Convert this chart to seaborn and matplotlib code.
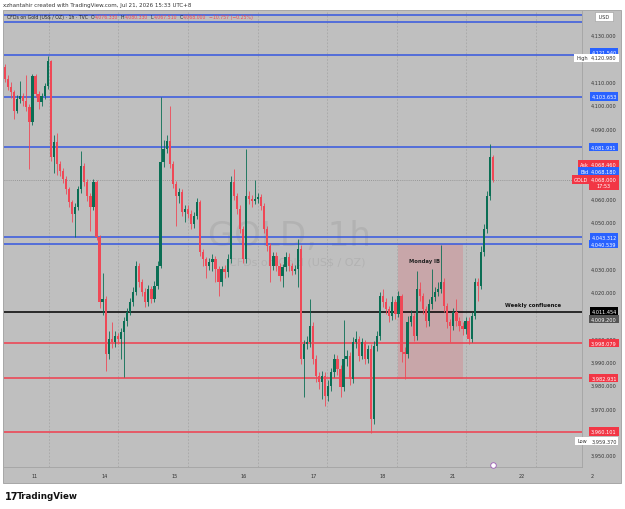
import matplotlib
matplotlib.use("Agg")
import matplotlib.pyplot as plt
import matplotlib.transforms as mtransforms
from matplotlib.patches import Rectangle
import seaborn as sns

# --- DATA (GOLD 1h) ---
first_open = 4116.3
closes = [
    4111.1, 4107.7, 4105.6, 4097.4, 4102.6, 4103.9, 4101.7, 4099.1, 4092.7, 4112.4,
    4104.7, 4101.3, 4103.9, 4108.1, 4118.9, 4077.7, 4084.1, 4074.7, 4071.7, 4068.3,
    4064.0, 4058.4, 4053.3, 4056.3, 4064.0, 4073.9, 4067.0, 4061.0, 4056.3, 4067.0,
    4043.4, 4015.6, 4016.9, 3993.3, 3999.7, 3998.4, 4001.0, 3999.7, 4002.7, 4007.4,
    4011.3, 4015.6, 4019.9, 4031.0, 4024.1, 4019.9, 4015.6, 4021.1, 4016.9, 4022.4,
    4031.0, 4075.6, 4081.1, 4084.6, 4074.7, 4066.1, 4061.0, 4062.7, 4054.1, 4055.4,
    4053.3, 4049.0, 4052.4, 4058.4, 4037.0, 4034.0, 4031.0, 4032.7, 4034.0, 4029.7,
    4024.1, 4029.7, 4028.4, 4034.0, 4067.0, 4061.0, 4055.4, 4046.9, 4034.0, 4061.0,
    4059.7, 4058.9, 4059.7, 4060.6, 4056.7, 4046.9, 4039.6, 4031.0, 4035.3, 4031.0,
    4026.7, 4030.6, 4034.9, 4031.0, 4028.9, 4029.7, 4038.3, 3991.1, 3997.6, 3998.4,
    4005.3, 3991.1, 3983.9, 3981.3, 3983.9, 3975.3, 3979.6, 3985.6, 3991.1, 3986.9,
    3979.1, 3991.1, 3992.4, 3982.6, 3998.4, 3999.7, 3992.4, 3998.4, 3991.1, 3995.4,
    3965.4, 3996.7, 4001.0, 4018.1, 4015.6, 4012.6, 4009.6, 4015.6, 4010.4, 4018.1,
    3994.1, 3993.3, 4007.0, 4009.6, 4001.0, 4021.1, 4018.1, 4012.6, 4007.4, 4014.7,
    4017.7, 4019.9, 4021.1, 4024.1, 4013.8, 4007.0, 4005.3, 4011.3, 4007.4, 4005.3,
    4004.0, 4007.4, 3999.7, 4009.6, 4024.1, 4022.4, 4037.0, 4046.9, 4061.0, 4077.7,
    4068.0]
highs = [
    4117.5, 4113.0, 4110.0, 4106.5, 4104.5, 4110.5, 4105.0, 4113.0, 4100.5, 4113.5,
    4113.5, 4106.0, 4105.0, 4109.5, 4121.0, 4119.5, 4087.0, 4088.0, 4076.0, 4073.0,
    4069.5, 4065.0, 4059.5, 4058.0, 4065.5, 4080.3, 4075.0, 4068.5, 4062.5, 4068.5,
    4068.0, 4044.5, 4028.0, 4018.0, 4003.0, 4007.0, 4003.0, 4002.5, 4004.5, 4009.0,
    4013.0, 4017.5, 4022.0, 4033.1, 4032.5, 4025.5, 4021.5, 4023.0, 4022.5, 4024.5,
    4033.0, 4103.4, 4085.0, 4087.0, 4099.6, 4076.0, 4067.5, 4064.5, 4064.0, 4057.0,
    4057.0, 4055.0, 4054.0, 4060.0, 4059.5, 4038.5, 4035.0, 4034.5, 4036.0, 4035.5,
    4031.0, 4031.0, 4031.5, 4036.0, 4069.5, 4072.6, 4062.5, 4057.0, 4048.0, 4081.1,
    4063.0, 4061.5, 4068.0, 4062.5, 4062.0, 4058.0, 4048.0, 4041.0, 4037.0, 4037.0,
    4032.5, 4032.0, 4037.0, 4036.5, 4032.5, 4031.5, 4042.6, 4040.0, 3999.5, 4001.0,
    4016.9, 4007.0, 3993.0, 3985.5, 3986.0, 3985.5, 3982.0, 3987.5, 3993.5, 3993.0,
    3988.5, 4008.0, 3995.0, 3994.0, 4000.5, 4003.0, 4001.0, 4000.0, 3999.5, 3997.0,
    3997.5, 3999.0, 4003.0, 4020.0, 4021.0, 4017.5, 4014.0, 4018.0, 4017.0, 4020.5,
    4019.0, 3996.5, 4009.5, 4012.0, 4011.0, 4028.9, 4024.0, 4019.5, 4014.0, 4017.0,
    4029.7, 4022.0, 4024.0, 4040.0, 4026.0, 4015.0, 4008.5, 4013.0, 4017.0, 4009.0,
    4007.0, 4009.0, 4009.0, 4011.5, 4026.0, 4026.0, 4039.5, 4049.0, 4063.0, 4083.3,
    4078.5]
lows = [
    4109.8, 4106.5, 4103.0, 4094.0, 4096.5, 4101.0, 4099.5, 4097.5, 4072.6, 4091.5,
    4103.5, 4098.5, 4099.5, 4102.5, 4107.0, 4076.0, 4071.0, 4070.0, 4069.5, 4066.5,
    4062.0, 4056.5, 4050.0, 4043.4, 4055.0, 4062.5, 4065.5, 4059.0, 4046.0, 4055.0,
    4042.0, 4013.0, 4010.0, 3986.0, 3991.0, 3996.0, 3996.5, 3997.5, 3991.0, 3983.4,
    4005.5, 4010.0, 4014.0, 4018.5, 4022.0, 4018.0, 4013.5, 4014.0, 4015.0, 4015.5,
    4021.0, 4030.0, 4073.5, 4079.5, 4073.0, 4064.5, 4048.0, 4058.0, 4052.5, 4050.0,
    4051.5, 4047.0, 4047.5, 4051.0, 4035.5, 4031.0, 4026.0, 4029.5, 4029.0, 4024.0,
    4018.1, 4022.5, 4026.0, 4026.5, 4032.5, 4059.5, 4053.5, 4045.0, 4032.5, 4032.5,
    4057.5, 4056.5, 4057.5, 4058.0, 4055.0, 4045.0, 4037.5, 4024.0, 4029.5, 4029.0,
    4024.5, 4022.0, 4029.0, 4029.0, 4027.0, 4027.5, 4022.0, 3989.0, 3975.0, 3995.5,
    3996.5, 3989.0, 3981.5, 3978.5, 3974.0, 3971.0, 3973.0, 3977.5, 3983.5, 3984.5,
    3975.0, 3977.5, 3988.0, 3980.0, 3981.0, 3996.0, 3990.5, 3991.0, 3989.0, 3989.5,
    3959.4, 3963.5, 3994.5, 3999.5, 4013.5, 4010.5, 4007.0, 4008.0, 4008.5, 4009.0,
    3990.0, 3982.6, 3991.5, 4005.5, 3999.0, 3999.5, 4016.0, 4010.5, 4005.0, 4005.5,
    4012.5, 4016.0, 4018.0, 4019.5, 4011.5, 4004.5, 3998.4, 4003.5, 4005.5, 4003.0,
    4001.5, 4002.0, 3997.5, 3998.5, 4008.5, 4016.0, 4021.0, 4035.5, 4045.0, 4059.5,
    4067.0]

day_labels = ["11", "14", "15", "16", "17", "18", "21", "22"]
day_label_bars = [9.8, 32.7, 55.5, 78.3, 101.1, 123.9, 146.8, 169.6]
day_break_bars = [14.4, 37.2, 60.1, 82.9, 105.7, 128.5, 151.3, 174.2]

price_ticks = [4130, 4110, 4100, 4090, 4060, 4050, 4030, 4020, 4000, 3990, 3980, 3970, 3950]

blue_levels = [4138.6, 4135.8, 4121.540, 4103.653, 4081.931, 4043.312, 4040.539]
red_levels = [3998.079, 3982.931, 3960.101]
weekly_level = 4011.454
last_price = 4068.000
session_high = 4120.980
session_low = 3959.370
ask_price = 4068.460
bid_price = 4068.180
prev_close_mark = 4009.200

ib_start_bar, ib_end_bar = 128.9, 150.2
ib_low, ib_high = 3982.6, 4040.4

# --- STYLE ---
W, H = 625, 510
BG = "#bfbfbf"
GREEN = "#0a6e54"
RED = "#ef4856"
BLUE_LINE = "#3557e0"
RED_LINE = "#f03e4e"
BADGE_BLUE = "#2962ff"
BADGE_RED = "#f23645"

sns.set_style("white")
plt.rcParams["font.family"] = ["DejaVu Sans"]

fig = plt.figure(figsize=(W / 100, H / 100), dpi=100)
fig.patch.set_facecolor("white")
fig.patches.append(Rectangle((3 / W, 1 - 484 / H), 618 / W, 473 / H, transform=fig.transFigure,
                             facecolor=BG, edgecolor="#9e9e9e", lw=0.6, zorder=-5))

ax = fig.add_axes([4 / W, 1 - 468 / H, 578 / W, 456 / H])
ax.set_zorder(2)
ax.set_facecolor(BG)
ax.set_xlim(-0.33, 189.18)
ax.set_ylim(3944.9, 4140.3)

# day separators and the current price line
for b in day_break_bars:
    ax.axvline(b, color="#a6a6a6", lw=0.6, ls=(0, (2, 2)), zorder=1)
ax.axhline(last_price, color="#8a8a8a", lw=0.6, ls=(0, (1, 1.5)), zorder=1)

# watermark
ax.text(93.4, 4044.3, "GOLD, 1h", fontsize=24.5, color="#b2b2b2", ha="center", va="center", zorder=1)
ax.text(95.7, 4033.1, "CFDs on Gold (US$ / OZ)", fontsize=8, color="#b2b2b2", ha="center", va="center", zorder=1)

# Monday IB box
ax.add_patch(Rectangle((ib_start_bar, ib_low), ib_end_bar - ib_start_bar, ib_high - ib_low,
                       facecolor="#f23645", alpha=0.18, edgecolor="none", zorder=1))
ax.text(137.7, 4033.6, "Monday IB", fontsize=3.8, fontweight="bold", color="#222", ha="center", va="center", zorder=4)

# level lines
for lv in blue_levels:
    ax.axhline(lv, color=BLUE_LINE, lw=1.1, zorder=2)
for lv in red_levels:
    ax.axhline(lv, color=RED_LINE, lw=1.1, zorder=2)
ax.axhline(weekly_level, color="black", lw=1.1, zorder=2)
ax.text(173.1, 4014.4, "Weekly confluence", fontsize=3.8, fontweight="bold", color="#111", ha="center", va="center", zorder=4)

# candles
opens = [first_open] + closes[:-1]
idx = list(range(len(closes)))
colors = [GREEN if c >= o else RED for o, c in zip(opens, closes)]
ax.vlines(idx, lows, highs, colors=colors, lw=0.6, zorder=3)
bottoms = [min(o, c) for o, c in zip(opens, closes)]
heights = [max(abs(c - o), 0.45) for o, c in zip(opens, closes)]
ax.bar(idx, heights, bottom=bottoms, width=0.74, color=colors, linewidth=0, zorder=3)

# event marker under the last candle
ax.plot([160], [3945.8], marker="o", ms=4, mfc="white", mec="#9b59b6", mew=0.6, clip_on=False, zorder=6)

# axes
for s in ["top", "left"]:
    ax.spines[s].set_visible(False)
for s in ["right", "bottom"]:
    ax.spines[s].set_color("#a3a3a3")
    ax.spines[s].set_linewidth(0.6)
ax.yaxis.tick_right()
ax.set_yticks(price_ticks)
ax.set_yticklabels([f"{v:,.3f}" for v in price_ticks])
ax.tick_params(axis="y", length=0, pad=6, labelsize=3.6, labelcolor="#333")
ax.set_xticks(day_label_bars)
ax.set_xticklabels(day_labels)
ax.tick_params(axis="x", length=0, pad=4, labelsize=3.6, labelcolor="#333")
ax.text(192.4, 3944.9, "2", fontsize=3.6, color="#333", ha="center", va="top",
        transform=mtransforms.offset_copy(ax.transData, fig=fig, y=-4, units="points"), clip_on=False)

# price scale badges
def badge(price, text, fc, tc="white", xc=1.038, dy=0.0, ec="none"):
    tr = mtransforms.blended_transform_factory(ax.transAxes, ax.transData)
    tr = mtransforms.offset_copy(tr, fig=fig, y=dy, units="points")
    ax.text(xc, price, text, transform=tr, fontsize=3.6, color=tc, ha="center", va="center",
            clip_on=False, zorder=8,
            bbox=dict(boxstyle="square,pad=0.35", fc=fc, ec=ec, lw=0.4))

badge(4138.6, " USD ", "white", tc="#333", dy=-1.0, ec="#999")
badge(blue_levels[2], f"{blue_levels[2]:,.3f}", BADGE_BLUE, dy=2.0)
badge(session_high, f"{session_high:,.3f}", "white", tc="#333", dy=-1.2)
badge(session_high, "High", "white", tc="#333", xc=1.0, dy=-1.2)
badge(blue_levels[3], f"{blue_levels[3]:,.3f}", BADGE_BLUE)
badge(blue_levels[4], f"{blue_levels[4]:,.3f}", BADGE_BLUE)
badge(ask_price, f"{ask_price:,.3f}", BADGE_RED, dy=10.5)
badge(ask_price, "Ask", BADGE_RED, xc=1.004, dy=10.5)
badge(bid_price, f"{bid_price:,.3f}", BADGE_BLUE, dy=5.5)
badge(bid_price, "Bid", BADGE_BLUE, xc=1.004, dy=5.5)
badge(last_price, f"{last_price:,.3f}\n17:53", BADGE_RED, dy=-2.0)
badge(last_price, "GOLD", BADGE_RED, xc=0.998, dy=0.3)
badge(blue_levels[5], f"{blue_levels[5]:,.3f}", BADGE_BLUE)
badge(blue_levels[6], f"{blue_levels[6]:,.3f}", BADGE_BLUE)
badge(weekly_level, f"{weekly_level:,.3f}", "black")
badge(prev_close_mark, f"{prev_close_mark:,.3f}", "#555555", dy=-1.5)
badge(red_levels[0], f"{red_levels[0]:,.3f}", BADGE_RED)
badge(red_levels[1], f"{red_levels[1]:,.3f}", BADGE_RED)
badge(red_levels[2], f"{red_levels[2]:,.3f}", BADGE_RED)
badge(session_low, f"{session_low:,.3f}", "white", tc="#333", dy=-5.5)
badge(session_low, "Low", "white", tc="#333", xc=1.0, dy=-5.5)

# header texts
fig.text(3 / W, 1 - 6 / H, "xzhantahir created with TradingView.com, Jul 21, 2026 15:33 UTC+8",
         fontsize=4.0, color="#333", va="center", ha="left")

renderer = fig.canvas.get_renderer()
parts = [("CFDs on Gold (US$ / OZ) · 1h · TVC", "#222"), ("  O", "#222"), ("4,076.330", RED),
         ("  H", "#222"), ("4,080.330", RED), ("  L", "#222"), ("4,067.510", RED),
         ("  C", "#222"), ("4,068.000", RED), ("  −10.757 (−0.25%)", RED)]
xp = 7
for s, c in parts:
    t = fig.text(xp / W, 1 - 17.5 / H, s, fontsize=3.3, color=c, va="center", ha="left", zorder=9)
    xp += t.get_window_extent(renderer).width

# footer logo
fig.text(5 / W, 1 - 497 / H, "17", fontsize=7, fontweight="bold", color="#111", va="center", ha="left")
fig.text(17 / W, 1 - 497 / H, "TradingView", fontsize=6.3, fontweight="bold", color="#111", va="center", ha="left")

fig.savefig("out.png", dpi=100)
